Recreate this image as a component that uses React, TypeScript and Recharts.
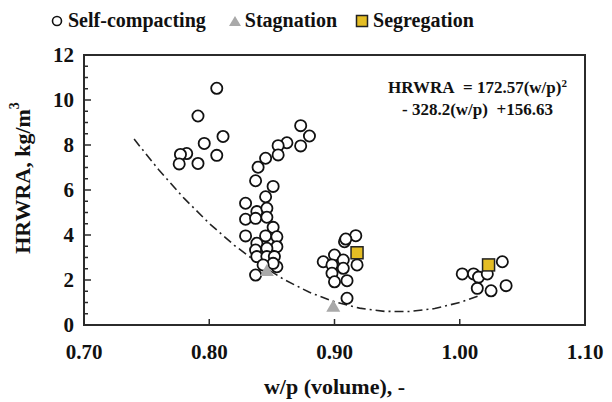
import { ReferenceArea, Scatter, ScatterChart, XAxis, YAxis, Label } from "recharts"

// w/p (volume) vs HRWRA (kg/m3)
const SELF_COMPACTING = [
  [0.806, 10.52], [0.791, 9.29], [0.811, 8.38], [0.796, 8.07], [0.782, 7.62],
  [0.777, 7.58], [0.776, 7.16], [0.791, 7.18], [0.806, 7.54],
  [0.873, 8.86], [0.88, 8.4], [0.873, 7.96], [0.862, 8.1], [0.855, 7.97],
  [0.855, 7.56], [0.845, 7.41], [0.839, 7.01], [0.837, 6.41], [0.851, 6.16],
  [0.845, 5.7], [0.829, 5.41], [0.838, 5.04], [0.846, 5.19], [0.829, 4.7],
  [0.846, 4.79], [0.837, 4.74], [0.851, 4.34], [0.829, 3.96], [0.845, 3.96],
  [0.854, 3.92], [0.838, 3.63], [0.854, 3.48], [0.837, 3.33], [0.846, 3.41],
  [0.838, 3.04], [0.846, 3.04], [0.852, 3.04], [0.854, 2.59], [0.851, 2.74],
  [0.843, 2.67], [0.837, 2.22],
  [0.891, 2.81], [0.9, 3.11], [0.898, 2.67], [0.898, 2.3], [0.9, 1.92],
  [0.917, 3.97], [0.908, 3.7], [0.909, 3.82], [0.907, 2.89], [0.907, 2.52],
  [0.91, 1.97], [0.918, 2.67], [0.91, 1.19],
  [1.002, 2.27], [1.011, 2.27], [1.015, 2.13], [1.022, 2.27], [1.034, 2.81],
  [1.014, 1.63], [1.025, 1.52], [1.037, 1.75],
].map(([x, y]) => ({ x, y }))

const STAGNATION = [
  [0.846, 2.4], [0.899, 0.81],
].map(([x, y]) => ({ x, y }))

const SEGREGATION = [
  [0.918, 3.21], [1.023, 2.67],
].map(([x, y]) => ({ x, y }))

// fitted curve printed on the chart: HRWRA = 172.57(w/p)^2 - 328.2(w/p) + 156.63
const FIT_A = 172.57
const FIT_B = -328.2
const FIT_C = 156.63
const CURVE_X = [
  0.74, 0.76, 0.78, 0.8, 0.82, 0.84, 0.86, 0.88, 0.9, 0.92, 0.94, 0.96, 0.98, 1.0, 1.015,
]
const CURVE = CURVE_X.map((x) => ({ x, y: FIT_A * x * x + FIT_B * x + FIT_C }))

const X_TICKS = [0.7, 0.8, 0.9, 1.0, 1.1]
const Y_TICKS = [
  0, 0.5, 1, 1.5, 2, 2.5, 3, 3.5, 4, 4.5, 5, 5.5, 6, 6.5, 7, 7.5, 8, 8.5, 9, 9.5, 10,
  10.5, 11, 11.5, 12,
]

const W = 612
const H = 402
const PLOT_LEFT = 84
const PLOT_BOTTOM = 325
const AXIS = "#2b2b2b"
const FONT = "Liberation Serif, Tinos, Times New Roman, DejaVu Serif, serif"

const YTick = (props: any) => {
  const { y, payload } = props
  const major = payload.value % 2 === 0
  return (
    <g>
      <line x1={PLOT_LEFT} x2={PLOT_LEFT + (major ? 7 : 4)} y1={y} y2={y} stroke={AXIS} strokeWidth={1.5} />
      {major && (
        <text x={PLOT_LEFT - 10} y={y} dy={7} textAnchor="end" fontFamily={FONT} fontWeight="bold" fontSize={21} fill="#111">
          {payload.value}
        </text>
      )}
    </g>
  )
}

const XTick = (props: any) => {
  const { x, payload } = props
  return (
    <g>
      <line x1={x} x2={x} y1={PLOT_BOTTOM} y2={PLOT_BOTTOM - 6} stroke={AXIS} strokeWidth={1.5} />
      <text x={x} y={PLOT_BOTTOM + 34} textAnchor="middle" fontFamily={FONT} fontWeight="bold" fontSize={21} fill="#111">
        {Number(payload.value).toFixed(2)}
      </text>
    </g>
  )
}

const YTitle = (props: any) => {
  const { viewBox } = props
  const cy = viewBox.y + viewBox.height / 2 - 12
  return (
    <text
      x={22}
      y={cy}
      transform={`rotate(-90 22 ${cy})`}
      textAnchor="middle"
      dominantBaseline="central"
      fontFamily={FONT}
      fontWeight="bold"
      fontSize={22}
      fill="#111"
    >
      HRWRA, kg/m<tspan dy={-8} fontSize={14}>3</tspan>
    </text>
  )
}

const OpenCircle = (p: any) => (
  <circle cx={p.cx} cy={p.cy} r={5.6} fill="#fff" stroke="#111" strokeWidth={1.8} />
)
const GreyTriangle = (p: any) => (
  <polygon
    points={`${p.cx},${p.cy - 7} ${p.cx - 7},${p.cy + 5} ${p.cx + 7},${p.cy + 5}`}
    fill="#a9a9a9"
  />
)
const YellowSquare = (p: any) => (
  <rect x={p.cx - 6} y={p.cy - 6} width={12} height={12} fill="#e4bd24" stroke="#222" strokeWidth={1.5} />
)

const legendText = { fontFamily: FONT, fontWeight: "bold", fontSize: 20, color: "#111" } as const

export default function App() {
  return (
    <div style={{ position: "absolute", left: 0, top: 0, width: W, height: H, background: "#fff" }}>
      <div style={{ position: "absolute", left: 50, top: 9, display: "flex", alignItems: "center", ...legendText }}>
        <svg width={14} height={14} style={{ marginRight: 4 }}>
          <circle cx={7} cy={7} r={4.5} fill="#fff" stroke="#111" strokeWidth={1.6} />
        </svg>
        <span>Self-compacting</span>
        <svg width={14} height={14} style={{ marginLeft: 22, marginRight: 3 }}>
          <polygon points="7,2 1,12 13,12" fill="#a9a9a9" />
        </svg>
        <span>Stagnation</span>
        <svg width={14} height={14} style={{ marginLeft: 18, marginRight: 4 }}>
          <rect x={1.5} y={1.5} width={11} height={11} fill="#e4bd24" stroke="#222" strokeWidth={1.5} />
        </svg>
        <span>Segregation</span>
      </div>
      <div
        style={{
          position: "absolute",
          left: 388,
          top: 72,
          fontFamily: FONT,
          fontWeight: "bold",
          fontSize: 17,
          lineHeight: "22px",
          color: "#111",
          textAlign: "center",
          whiteSpace: "nowrap",
        }}
      >
        <div>
          HRWRA&nbsp; = 172.57(w/p)<sup style={{ fontSize: 11, verticalAlign: "6px" }}>2</sup>
        </div>
        <div>- 328.2(w/p) &nbsp;+156.63</div>
      </div>
      <ScatterChart width={W} height={H} margin={{ top: 55, right: 27, bottom: 0, left: 0 }}>
        <XAxis
          type="number"
          dataKey="x"
          domain={[0.7, 1.1]}
          ticks={X_TICKS}
          tick={<XTick />}
          tickLine={false}
          axisLine={false}
          height={77}
          allowDataOverflow
        >
          <Label
            value="w/p (volume), -"
            position="insideBottom"
            offset={8}
            style={{ fontFamily: FONT, fontWeight: "bold", fontSize: 22, fill: "#111" }}
          />
        </XAxis>
        <YAxis
          type="number"
          dataKey="y"
          domain={[0, 12]}
          ticks={Y_TICKS}
          tick={<YTick />}
          tickLine={false}
          axisLine={false}
          width={84}
          interval={0}
          allowDataOverflow
        >
          <Label content={<YTitle />} />
        </YAxis>
        <ReferenceArea x1={0.7} x2={1.1} y1={0} y2={12} fill="none" stroke={AXIS} strokeWidth={2} ifOverflow="visible" />
        <Scatter
          name="fit"
          data={CURVE}
          line={{ stroke: "#222", strokeWidth: 1.6, strokeDasharray: "9 4 2 4" }}
          lineType="joint"
          shape={() => <g />}
          isAnimationActive={false}
        />
        <Scatter name="Self-compacting" data={SELF_COMPACTING} shape={OpenCircle} isAnimationActive={false} />
        <Scatter name="Stagnation" data={STAGNATION} shape={GreyTriangle} isAnimationActive={false} />
        <Scatter name="Segregation" data={SEGREGATION} shape={YellowSquare} isAnimationActive={false} />
      </ScatterChart>
    </div>
  )
}
